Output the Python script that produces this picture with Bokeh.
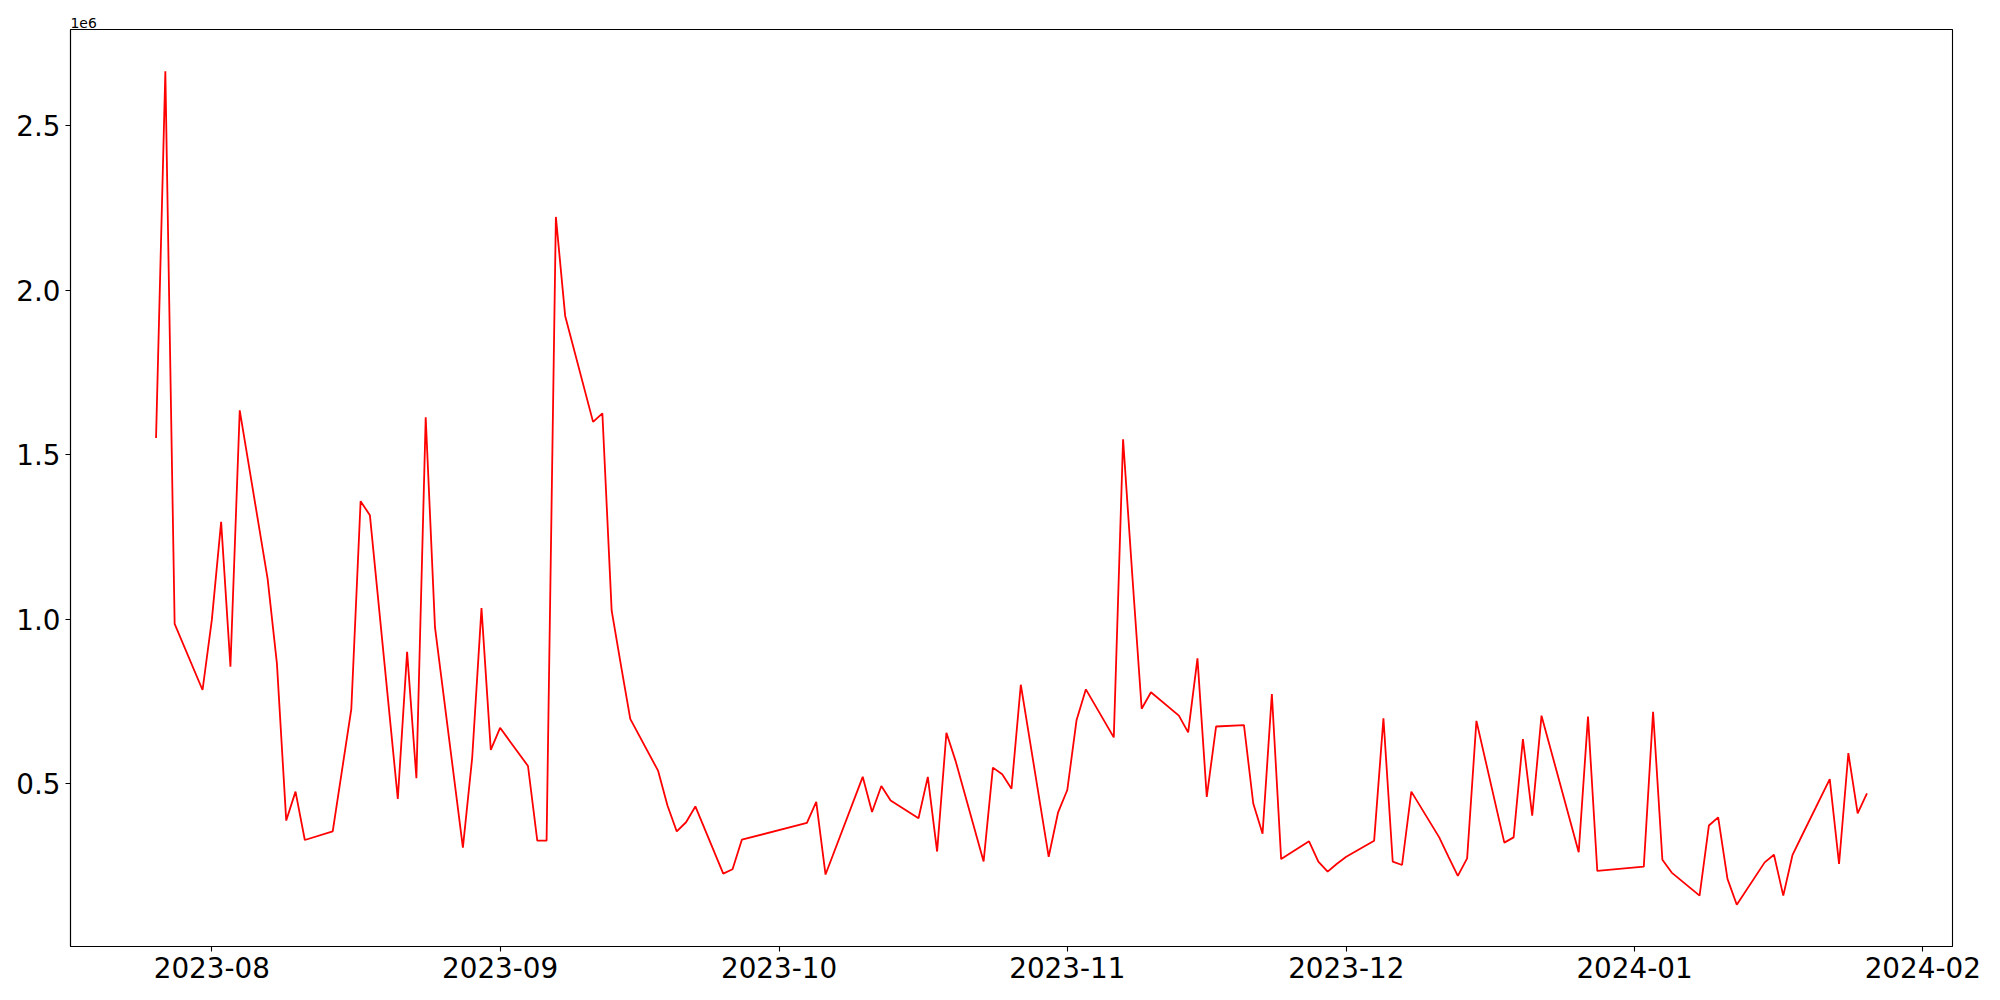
import pandas as pd
from bokeh.plotting import figure
from bokeh.models import Range1d, FixedTicker, DatetimeTickFormatter, Title
from bokeh.embed import file_html
from bokeh.resources import INLINE

dates = [
    "2023-07-26", "2023-07-27", "2023-07-28", "2023-07-31",
    "2023-08-01", "2023-08-02", "2023-08-03", "2023-08-04",
    "2023-08-07", "2023-08-08", "2023-08-09", "2023-08-10", "2023-08-11",
    "2023-08-14", "2023-08-16", "2023-08-17", "2023-08-18",
    "2023-08-21", "2023-08-22", "2023-08-23", "2023-08-24", "2023-08-25",
    "2023-08-28", "2023-08-29", "2023-08-30", "2023-08-31", "2023-09-01",
    "2023-09-04", "2023-09-05", "2023-09-06", "2023-09-07", "2023-09-08",
    "2023-09-11", "2023-09-12", "2023-09-13", "2023-09-14", "2023-09-15",
    "2023-09-18", "2023-09-19", "2023-09-20", "2023-09-21", "2023-09-22",
    "2023-09-25", "2023-09-26", "2023-09-27",
    "2023-10-04", "2023-10-05", "2023-10-06",
    "2023-10-10", "2023-10-11", "2023-10-12", "2023-10-13",
    "2023-10-16", "2023-10-17", "2023-10-18", "2023-10-19", "2023-10-20",
    "2023-10-23", "2023-10-24", "2023-10-25", "2023-10-26", "2023-10-27",
    "2023-10-30", "2023-10-31", "2023-11-01", "2023-11-02", "2023-11-03",
    "2023-11-06", "2023-11-07", "2023-11-08", "2023-11-09", "2023-11-10",
    "2023-11-13", "2023-11-14", "2023-11-15", "2023-11-16", "2023-11-17",
    "2023-11-20", "2023-11-21", "2023-11-22", "2023-11-23", "2023-11-24",
    "2023-11-27", "2023-11-28", "2023-11-29", "2023-11-30", "2023-12-01",
    "2023-12-04", "2023-12-05", "2023-12-06", "2023-12-07", "2023-12-08",
    "2023-12-11", "2023-12-12", "2023-12-13", "2023-12-14", "2023-12-15",
    "2023-12-18", "2023-12-19", "2023-12-20", "2023-12-21", "2023-12-22",
    "2023-12-26", "2023-12-27", "2023-12-28",
    "2024-01-02", "2024-01-03", "2024-01-04", "2024-01-05",
    "2024-01-08", "2024-01-09", "2024-01-10", "2024-01-11", "2024-01-12",
    "2024-01-15", "2024-01-16", "2024-01-17", "2024-01-18", "2024-01-19",
    "2024-01-22", "2024-01-23", "2024-01-24", "2024-01-25", "2024-01-26",
]

volume = [
    1551000, 2666000, 986000, 785000,
    998000, 1296000, 856000, 1635000,
    1123000, 865000, 388000, 476000, 329000,
    355000, 727000, 1359000, 1316000,
    454000, 901000, 517000, 1614000, 975000,
    306000, 579000, 1034000, 603000, 670000,
    554000, 327000, 327000, 2223000, 1922000,
    1600000, 1626000, 1026000, 860000, 697000,
    539000, 434000, 355000, 383000, 431000,
    227000, 240000, 330000,
    381000, 445000, 224000,
    521000, 414000, 493000, 449000,
    395000, 521000, 294000, 655000, 568000,
    264000, 549000, 529000, 485000, 801000,
    278000, 412000, 481000, 694000, 787000,
    641000, 1547000, 1130000, 728000, 778000,
    707000, 656000, 881000, 460000, 674000,
    678000, 440000, 348000, 773000, 271000,
    325000, 263000, 233000, 257000, 278000,
    327000, 699000, 263000, 253000, 476000,
    337000, 278000, 220000, 273000, 691000,
    321000, 337000, 636000, 403000, 707000,
    292000, 704000, 235000,
    248000, 719000, 269000, 230000,
    160000, 373000, 398000, 211000, 132000,
    261000, 284000, 160000, 284000, 342000,
    514000, 256000, 593000, 410000, 471000,
]

x_tick_dates = ["2023-08-01", "2023-09-01", "2023-10-01", "2023-11-01",
                "2023-12-01", "2024-01-01", "2024-02-01"]
y_ticks = [500000, 1000000, 1500000, 2000000, 2500000]
y_tick_labels = ["0.5", "1.0", "1.5", "2.0", "2.5"]
offset_text = "1e6"

x = pd.to_datetime(dates)
xmin, xmax = x.min(), x.max()
xpad = (xmax - xmin) * 0.05
ymin, ymax = min(volume), max(volume)
ypad = (ymax - ymin) * 0.05
x_start_ms = (xmin - xpad).value / 1e6
x_end_ms = (xmax + xpad).value / 1e6

title = Title(text=offset_text, align="left", offset=0, standoff=3,
              text_font="DejaVu Sans", text_font_size="13.9px",
              text_font_style="normal", text_color="black")

p = figure(width=1992, height=992, x_axis_type="datetime",
           output_backend="svg", toolbar_location=None,
           x_range=Range1d(x_start_ms, x_end_ms),
           y_range=Range1d(ymin - ypad, ymax + ypad),
           min_border_left=70, min_border_right=40,
           min_border_top=29, min_border_bottom=46, title=title)

p.line(x, volume, line_color="red", line_width=1.8)

p.grid.visible = False
p.outline_line_color = "black"
p.outline_line_alpha = 1
p.outline_line_width = 1.1
p.background_fill_color = "white"
p.border_fill_color = "white"

tick_ms = [pd.Timestamp(d).value / 1e6 for d in x_tick_dates]
p.xaxis.ticker = FixedTicker(ticks=tick_ms)
fmt = "%Y-%m"
p.xaxis.formatter = DatetimeTickFormatter(
    microseconds=fmt, milliseconds=fmt, seconds=fmt, minsec=fmt, minutes=fmt,
    hourmin=fmt, hours=fmt, days=fmt, months=fmt, years=fmt)

p.yaxis.ticker = FixedTicker(ticks=y_ticks)
p.yaxis.major_label_overrides = {t: l for t, l in zip(y_ticks, y_tick_labels)}

for ax in (p.xaxis, p.yaxis):
    ax.axis_line_color = "black"
    ax.axis_line_width = 1.1
    ax.major_tick_line_color = "black"
    ax.major_tick_line_width = 1.1
    ax.major_tick_out = 5
    ax.major_tick_in = 0
    ax.minor_tick_line_color = None
    ax.major_label_standoff = 5
    ax.major_label_text_font = "DejaVu Sans"
    ax.major_label_text_font_size = "27.8px"
    ax.major_label_text_color = "black"

open("out.html", "w").write(file_html(p, INLINE))
